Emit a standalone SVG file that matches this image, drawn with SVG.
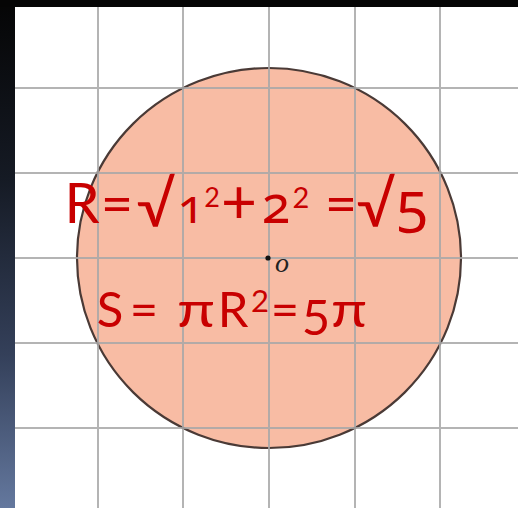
<svg xmlns="http://www.w3.org/2000/svg" width="518" height="508" viewBox="0 0 518 508">
<defs>
<linearGradient id="bar" x1="0" y1="0" x2="0" y2="1">
<stop offset="0" stop-color="#050505"/>
<stop offset="0.35" stop-color="#151a24"/>
<stop offset="0.7" stop-color="#34405a"/>
<stop offset="1" stop-color="#64789e"/>
</linearGradient>
</defs>
<style>
.grid{stroke:#a8a8a8;stroke-width:2;opacity:0.85}
.eq{font-family:Lato,"Noto Sans",sans-serif;fill:#c80000;text-anchor:middle}
.l1{font-size:56px}
.l2{font-size:49px}
.os{font-family:"Noto Sans",sans-serif;font-variant-numeric:oldstyle-nums;font-feature-settings:"onum" 1}
</style>
<rect x="0" y="0" width="518" height="508" fill="#ffffff"/>
<rect x="0" y="0" width="15" height="508" fill="url(#bar)"/>
<rect x="0" y="0" width="518" height="7" fill="#050505"/>
<g id="circle">
<ellipse cx="269" cy="258" rx="192" ry="190" fill="#f8bca4" stroke="#4a3a36" stroke-width="2.2"/>
</g>
<g id="grid" class="grid">
<line x1="98" y1="7" x2="98" y2="508"/>
<line x1="183" y1="7" x2="183" y2="508"/>
<line x1="269" y1="7" x2="269" y2="508"/>
<line x1="355" y1="7" x2="355" y2="508"/>
<line x1="440" y1="7" x2="440" y2="508"/>
<line x1="15" y1="88" x2="518" y2="88"/>
<line x1="15" y1="173" x2="518" y2="173"/>
<line x1="15" y1="258" x2="518" y2="258"/>
<line x1="15" y1="343" x2="518" y2="343"/>
<line x1="15" y1="428" x2="518" y2="428"/>
</g>
<g id="center">
<circle cx="268" cy="258" r="2.6" fill="#111"/>
<text x="275" y="272" font-family="Liberation Serif,serif" font-style="italic" font-size="28" fill="#222">o</text>
</g>
<g id="labels">
<text class="eq l1"><tspan x="82" y="223">R</tspan><tspan x="117" y="223">=</tspan><tspan x="156" y="227" font-size="62">√</tspan><tspan class="os" x="191" y="223" font-size="48">1</tspan><tspan x="212" y="207" font-size="27">2</tspan><tspan x="239" y="223" font-size="62">+</tspan><tspan class="os" x="276" y="223" font-size="52">2</tspan><tspan x="301" y="208" font-size="29">2</tspan><tspan x="341" y="223">=</tspan><tspan x="376" y="227" font-size="62">√</tspan><tspan class="os" x="412" y="223" font-size="58">5</tspan></text>
<text class="eq l2"><tspan x="110" y="327">S</tspan><tspan x="144" y="327">=</tspan><tspan x="196" y="327" textLength="38" lengthAdjust="spacingAndGlyphs">π</tspan><tspan x="233" y="327">R</tspan><tspan x="260" y="312" font-size="31">2</tspan><tspan x="285" y="327">=</tspan><tspan x="316" y="335">5</tspan><tspan x="349" y="327" textLength="36" lengthAdjust="spacingAndGlyphs">π</tspan></text>
</g>
</svg>
